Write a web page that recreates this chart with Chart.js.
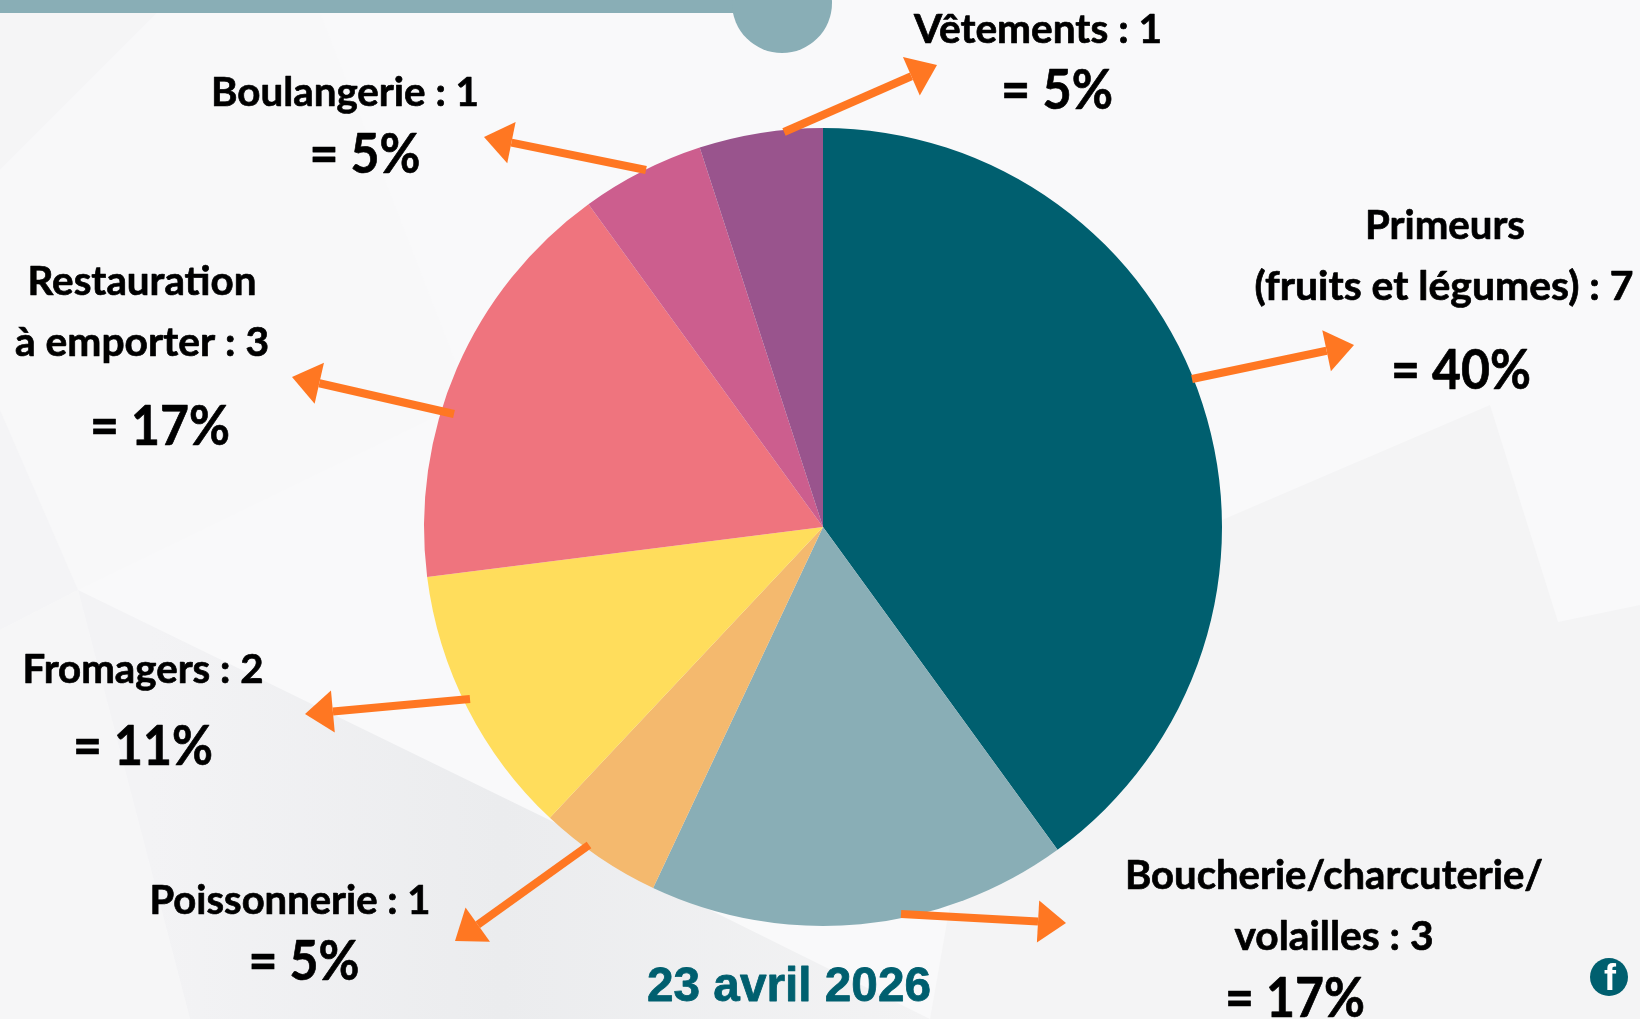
<!DOCTYPE html>
<html lang="fr">
<head>
<meta charset="utf-8">
<title>Commerces – 23 avril 2026</title>
<script src="https://cdn.jsdelivr.net/npm/chart.js@4"></script>
<style>
html,body{margin:0;padding:0;background:#f9f9fa;overflow:hidden}
#wrap{position:relative;width:1640px;height:1019px}
canvas{display:block}
</style>
</head>
<body>
<div id="wrap"><canvas id="c" width="1640" height="1019"></canvas></div>
<script>
const categories = ["Primeurs (fruits et légumes)", "Boucherie/charcuterie/volailles", "Poissonnerie", "Fromagers", "Restauration à emporter", "Boulangerie", "Vêtements"];
const counts = [7, 3, 1, 2, 3, 1, 1];
const percents = [40, 17, 5, 11, 17, 5, 5];
const sliceColors = ["#005F6F", "#89AEB6", "#F4B96E", "#FFDD5C", "#EF747E", "#CC5E8E", "#99548D"];
const dateLabel = "23 avril 2026";

const calloutLayout = [
 {lines:[["Primeurs",1445,239,160],["(fruits et légumes) : "+counts[0],1444,300,379]],pct:[1461,389,140],arrow:[1192,379,1354,345]},
 {lines:[["Boucherie/charcuterie/",1334,889,418],["volailles : "+counts[1],1334,950,199]],pct:[1295,1017,140],arrow:[901,914,1066,923]},
 {lines:[["Poissonnerie : "+counts[2],290,914,281]],pct:[304,980,111],arrow:[589,845,455,941]},
 {lines:[["Fromagers : "+counts[3],143,683,241]],pct:[143,765,140],arrow:[470,699,305,714]},
 {lines:[["Restauration",142,295,229],["à emporter : "+counts[4],142,356,254]],pct:[160,445,140],arrow:[454,414,292,377]},
 {lines:[["Boulangerie : "+counts[5],345,106,268]],pct:[365,173,111],arrow:[646,170,484,137]},
 {lines:[["Vêtements : "+counts[6],1038,43,248]],pct:[1057,109,112],arrow:[784,132,937,65]}
];

const backdrop = [
 ["#f5f5f6",[[0,13],[157,13],[0,170]]],
 ["#f8f8f9",[[0,170],[157,13],[320,13],[470,400],[78,590],[0,630]]],
 ["#f4f4f6",[[0,410],[78,590],[0,630]]],
 ["#f6f6f7",[[0,630],[78,590],[190,1019],[0,1019]]],
 ["#f4f4f5",[[1490,405],[1558,622],[1640,605],[1640,1019],[930,1019],[1000,620],[1222,520]]]
];

const pageBack = {
 id:"pageBack",
 beforeDraw(chart){
  const g = chart.ctx;
  g.save();
  g.fillStyle="#f9f9fa"; g.fillRect(0,0,1640,1019);
  backdrop.forEach(([col,pts])=>{
   g.fillStyle=col; g.beginPath();
   pts.forEach((p,i)=>i?g.lineTo(p[0],p[1]):g.moveTo(p[0],p[1]));
   g.closePath(); g.fill();
  });
  const lg=g.createLinearGradient(150,0,930,0);
  lg.addColorStop(0,"#f3f3f5"); lg.addColorStop(0.45,"#ebecee"); lg.addColorStop(1,"#f3f3f4");
  g.fillStyle=lg; g.beginPath();
  [[78,590],[570,830],[700,905],[930,1019],[190,1019]].forEach((p,i)=>i?g.lineTo(p[0],p[1]):g.moveTo(p[0],p[1]));
  g.closePath(); g.fill();
  g.fillStyle="#89AEB6";
  g.fillRect(0,0,760,13);
  g.beginPath(); g.arc(782,3,50,0,Math.PI*2); g.fill();
  g.restore();
 }
};

function arrow(g,x1,y1,x2,y2){
 const a=Math.atan2(y2-y1,x2-x1), len=28, hw=21;
 const bx=x2-len*Math.cos(a), by=y2-len*Math.sin(a);
 g.strokeStyle="#FF7722"; g.lineWidth=8; g.lineCap="butt";
 g.beginPath(); g.moveTo(x1,y1); g.lineTo(bx,by); g.stroke();
 g.fillStyle="#FF7722"; g.beginPath(); g.moveTo(x2,y2);
 g.lineTo(bx-hw*Math.sin(a),by+hw*Math.cos(a));
 g.lineTo(bx+hw*Math.sin(a),by-hw*Math.cos(a));
 g.closePath(); g.fill();
}

const callouts = {
 id:"callouts",
 afterDraw(chart){
  const g = chart.ctx;
  g.save();
  g.textAlign="center"; g.textBaseline="alphabetic"; g.lineJoin="round";
  calloutLayout.forEach((c,i)=>{
   arrow(g,...c.arrow);
   g.fillStyle="#000"; g.strokeStyle="#000"; g.lineWidth=0.7;
   g.font='bold 41px Lato, "Noto Sans", sans-serif';
   c.lines.forEach(l=>{g.fillText(l[0],l[1],l[2],l[3]);g.strokeText(l[0],l[1],l[2],l[3]);});
   g.font='bold 55px Lato, "Noto Sans", sans-serif';
   const t="= "+percents[i]+"%";
   g.fillText(t,c.pct[0],c.pct[1],c.pct[2]);g.strokeText(t,c.pct[0],c.pct[1],c.pct[2]);
  });
  g.fillStyle="#005F6F"; g.strokeStyle="#005F6F"; g.lineWidth=0.8;
  g.font='bold 48px "Liberation Sans", Arial, sans-serif';
  g.fillText(dateLabel,789,1001,284); g.strokeText(dateLabel,789,1001,284);
  g.beginPath(); g.arc(1609,977,19,0,Math.PI*2); g.fill();
  g.fillStyle="#fff";
  g.font='bold 36px "Liberation Sans", Arial, sans-serif';
  g.fillText("f",1610,990);
  g.restore();
 }
};

new Chart(document.getElementById("c"),{
 type:"pie",
 data:{labels:categories,datasets:[{data:percents,backgroundColor:sliceColors,borderWidth:0}]},
 options:{
  responsive:false,animation:false,rotation:0,
  layout:{padding:{left:424,right:418,top:128,bottom:93}},
  plugins:{legend:{display:false},tooltip:{enabled:false}}
 },
 plugins:[pageBack,callouts]
});
</script>
</body>
</html>
